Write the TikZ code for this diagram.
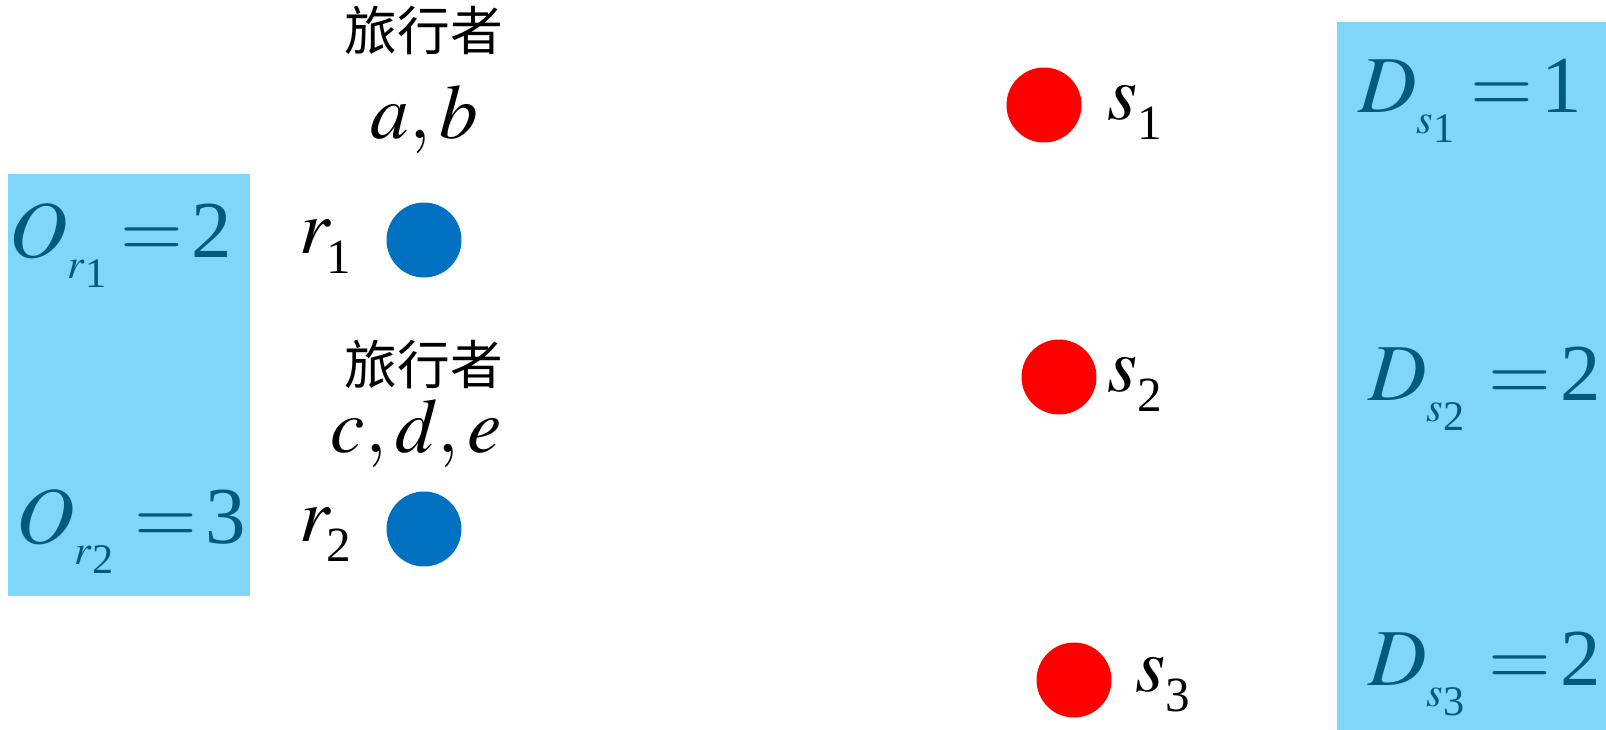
\documentclass[tikz,border=0pt]{standalone}
\usepackage{mathptmx}
\usepackage{fontspec}
\setmainfont{Liberation Serif}
\newfontfamily\cjk{Noto Sans CJK SC}
\usepackage{tikz}
\usetikzlibrary{positioning}
\definecolor{boxcolor}{RGB}{128,214,248}
\definecolor{boxtext}{RGB}{0,90,125}
\definecolor{origincolor}{RGB}{0,112,192}
\definecolor{destcolor}{RGB}{255,0,0}
% point label: letter with lowered index
\newcommand{\ptlab}[3][-0.06em]{$#2$\kern#1\lower0.26em\hbox{\fontsize{28}{28}\selectfont#3}}
% box label: O_{r_1} = 2 etc.
\newcommand{\eqlab}[5][16pt]{$#2$\lower12pt\hbox{\fontsize{24}{24}\selectfont$#3$\lower5.5pt\hbox{#4}}%
  \hspace{#1}$=$\hspace{5pt}#5}
\tikzset{
  origin/.style={circle, fill=origincolor, minimum size=1.5cm, inner sep=0pt},
  dest/.style={circle, fill=destcolor, minimum size=1.5cm, inner sep=0pt},
  mathlabel/.style={font=\fontsize{44}{46}\selectfont, inner sep=0pt},
  boxlabel/.style={font=\fontsize{46}{48}\selectfont, text=boxtext,
                   inner sep=0pt, anchor=base west},
  cjklabel/.style={font=\cjk\fontsize{30}{32}\selectfont, inner sep=0pt},
}

\begin{document}
\begin{tikzpicture}[x=0.02cm, y=-0.02cm]
  \useasboundingbox (0,0) rectangle (1606,730);

  % supply / demand boxes
  \fill[boxcolor] (8,174) rectangle (250,596);
  \fill[boxcolor] (1337,22) rectangle (1606,730);

  \node[boxlabel] (or1) at (9,257) {\eqlab[8pt]{O}{r}{1}{2}};
  \node[boxlabel] (or2) at (16,543) {\eqlab[12pt]{O}{r}{2}{3}};
  \node[boxlabel] (ds1) at (1358,112) {\eqlab[9pt]{D}{s}{1}{1}};
  \node[boxlabel] (ds2) at (1368,400) {\eqlab[14pt]{D}{s}{2}{2}};
  \node[boxlabel] (ds3) at (1368,685) {\eqlab[14pt]{D}{s}{3}{2}};

  % origins
  \node[origin] (r1) at (424,240) {};
  \node[origin] (r2) at (424,529) {};
  \node[mathlabel, left=0.7cm of r1, yshift=-0.14cm] (r1lab) {\ptlab{r}{1}};
  \node[mathlabel, left=0.7cm of r2, yshift=-0.12cm] (r2lab) {\ptlab{r}{2}};

  \node[mathlabel, above=0.97cm of r1] (ab) {$a,b$};
  \node[cjklabel, above=0.6cm of ab] (trav1) {旅行者};
  \node[mathlabel, above=0.47cm of r2, xshift=-0.15cm] (cde) {$c,d,e$};
  \node[cjklabel, above=0.2cm of cde, xshift=0.15cm] (trav2) {旅行者};

  % destinations
  \node[dest] (s1) at (1044,105) {};
  \node[dest] (s2) at (1059,377) {};
  \node[dest] (s3) at (1074,680) {};
  \node[mathlabel, right=0.5cm of s1, yshift=-0.14cm] (s1lab) {\ptlab[0pt]{s}{1}};
  \node[mathlabel, right=0.2cm of s2, yshift=-0.14cm] (s2lab) {\ptlab[0pt]{s}{2}};
  \node[mathlabel, right=0.46cm of s3, yshift=-0.1cm] (s3lab) {\ptlab[0pt]{s}{3}};

\end{tikzpicture}
\end{document}
